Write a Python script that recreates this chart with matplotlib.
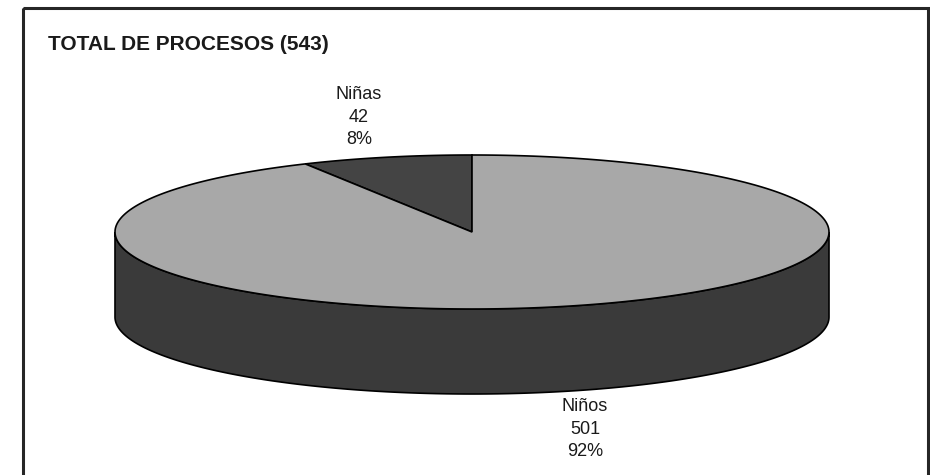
import numpy as np
import matplotlib.pyplot as plt
from matplotlib.patches import Polygon, Rectangle

plt.rcParams['font.family'] = ['Liberation Sans', 'DejaVu Sans']

labels = ['Niñas', 'Niños']
counts = [42, 501]
title = 'TOTAL DE PROCESOS (543)'

top_colors = ['#444444', '#a8a8a8']
side_color = '#3a3a3a'

# pie geometry in pixel units (y grows downward)
cx, cy = 472, 232
ra, rb = 357, 77
depth = 85

fig = plt.figure(figsize=(9.3, 4.75), dpi=100)
ax = fig.add_axes([0, 0, 1, 1])
ax.set_xlim(0, 930)
ax.set_ylim(475, 0)
ax.axis('off')

# frame runs off the bottom edge
ax.add_patch(Rectangle((23, 8), 905, 475, fill=False, edgecolor='#262626', lw=2.2))
ax.text(48, 45, title, fontsize=15, fontweight='bold', va='center', ha='left',
        color='#1a1a1a')


def rim(theta):
    # theta measured from 12 o'clock, counter-clockwise
    return cx - ra * np.sin(theta), cy - rb * np.cos(theta)


# front wall of the disc
phi = np.linspace(0, np.pi, 200)
xs = cx + ra * np.cos(phi)
ys = cy + rb * np.sin(phi)
wall = np.column_stack([np.r_[xs, xs[::-1]], np.r_[ys, ys[::-1] + depth]])
ax.add_patch(Polygon(wall, closed=True, facecolor=side_color, edgecolor='black', lw=1.2))

# top slices, starting at 12 o'clock going counter-clockwise
total = sum(counts)
start = 0.0
for lab, n, col in zip(labels, counts, top_colors):
    span = 2 * np.pi * n / total
    t = np.linspace(start, start + span, 300)
    px, py = rim(t)
    pts = np.column_stack([np.r_[cx, px], np.r_[cy, py]])
    ax.add_patch(Polygon(pts, closed=True, facecolor=col, edgecolor='black', lw=1.2))
    start += span

pct = [round(100 * n / total) for n in counts]
ax.text(359, 117, f'{labels[0]}\n{counts[0]}\n{pct[0]}%', fontsize=13,
        ha='center', va='center', linespacing=1.4, color='#1a1a1a')
ax.text(585, 429, f'{labels[1]}\n{counts[1]}\n{pct[1]}%', fontsize=13,
        ha='center', va='center', linespacing=1.4, color='#1a1a1a')

fig.savefig('out.png', dpi=100)
